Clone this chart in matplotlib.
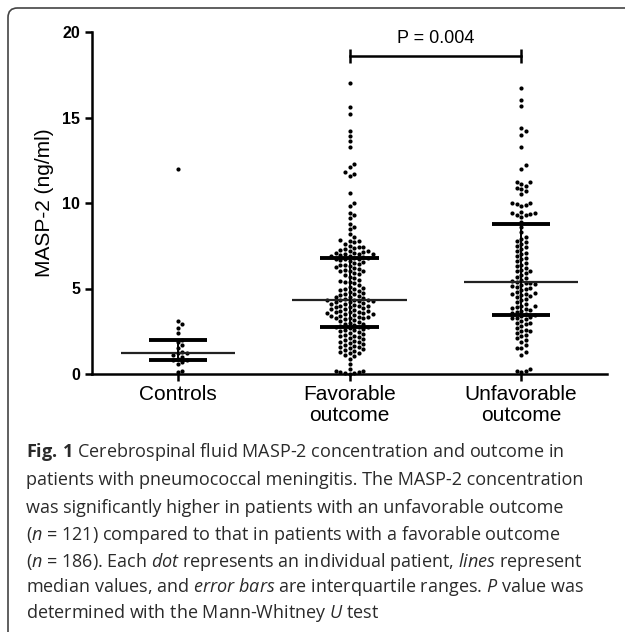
import numpy as np
import matplotlib.pyplot as plt
from matplotlib.patches import FancyBboxPatch

# ---- data ----
groups = ['Controls', 'Favorable\noutcome', 'Unfavorable\noutcome']

controls = [0.1, 0.2, 0.6, 0.7, 0.8, 0.8, 0.9, 1.0, 1.1, 1.2, 1.2, 1.3, 1.5, 1.7,
            1.9, 2.0, 2.4, 2.7, 2.9, 3.1, 12.0]

favorable = [0.02, 0.05, 0.08, 0.1, 0.12, 0.15, 0.2, 0.3, 0.6, 0.9,
             1.05, 1.1, 1.2, 1.25, 1.3, 1.35, 1.4, 1.45,
             1.5, 1.55, 1.6, 1.65, 1.7, 1.75, 1.8, 1.85, 1.9, 1.95,
             2.0, 2.05, 2.1, 2.15, 2.2, 2.25, 2.3, 2.35, 2.4, 2.45, 2.5, 2.55, 2.6, 2.65,
             2.7, 2.72, 2.74, 2.75,
             2.8, 2.85, 2.9, 2.95, 3.0, 3.05, 3.1, 3.15, 3.2, 3.25,
             3.3, 3.3, 3.35, 3.4, 3.4, 3.45, 3.5, 3.5, 3.55, 3.6,
             3.6, 3.65, 3.7, 3.7, 3.75, 3.8, 3.85, 3.9, 3.9, 3.95,
             4.0, 4.0, 4.05, 4.1, 4.1, 4.15, 4.2, 4.2, 4.25, 4.3,
             4.3, 4.35, 4.35, 3.35, 3.55, 3.8, 4.25,
             4.4, 4.45, 4.5, 4.5, 4.55, 4.6, 4.65, 4.7, 4.75, 4.8,
             4.85, 4.9, 4.95, 5.0, 5.05, 5.1, 5.2, 5.3, 5.4, 5.4,
             5.45, 5.5, 5.6, 5.7, 5.8, 5.85, 5.9, 6.0, 6.0, 6.05,
             6.1, 6.15, 6.2, 6.25, 6.3, 6.35, 6.4, 6.45, 6.5, 6.55,
             6.6, 6.65, 6.7, 6.72, 6.75, 6.78, 6.8,
             6.85, 6.9, 6.95, 7.0, 7.0, 7.05, 7.1, 7.15, 7.2, 7.25,
             7.3, 7.35, 7.4, 7.45, 7.5, 7.6, 7.7, 7.75, 7.8, 7.85,
             8.0, 8.2, 8.5, 8.6, 8.8, 9.1, 9.3, 9.4, 9.8, 10.0,
             10.6, 11.6, 11.7, 11.8, 12.1, 12.3, 13.3, 13.6, 13.9, 14.2,
             15.2, 15.6, 17.0, 7.0, 7.2, 6.9]

unfavorable = [0.1, 0.15, 0.2, 0.3, 1.1, 1.3, 1.5, 1.5, 1.7, 1.9,
               2.0, 2.1, 2.2, 2.3, 2.4, 2.5, 2.5, 2.6, 2.7, 2.8,
               2.9, 3.0, 3.0, 3.1, 3.2, 3.25, 3.3, 3.35, 3.4, 3.45,
               3.5, 3.55, 3.6, 3.7, 3.75, 3.8, 3.85, 3.9, 3.95, 4.0,
               4.1, 4.2, 4.3, 4.4, 4.5, 4.55, 4.6, 4.65, 4.7, 4.75,
               4.8, 4.9, 5.0, 5.05, 5.1, 5.15, 5.2, 5.25, 5.3, 5.35,
               5.4,
               5.45, 5.5, 5.6, 5.7, 5.8, 5.9, 6.0, 6.05, 6.1, 6.2,
               6.3, 6.4, 6.5, 6.6, 6.7, 6.8, 6.9, 7.0, 7.1, 7.2,
               7.3, 7.4, 7.5, 7.6, 7.7, 7.8, 7.9, 8.0, 8.3, 8.6,
               8.9, 9.2, 9.3, 9.3, 9.4, 9.4, 9.5, 9.8, 9.9, 9.95,
               10.0, 10.0, 10.5, 10.7, 10.8, 10.9, 11.0, 11.1, 11.2, 11.2,
               12.0, 12.2, 13.3, 14.0, 14.2, 14.4, 15.7, 16.0, 16.7, 9.35]

medians = [1.2, 4.35, 5.4]
q1 = [0.8, 2.75, 3.45]
q3 = [2.0, 6.8, 8.8]
p_label = 'P = 0.004'
p_height = 18.6

caption = [
    r'$\mathbf{Fig.\,1}$ Cerebrospinal fluid MASP-2 concentration and outcome in',
    'patients with pneumococcal meningitis. The MASP-2 concentration',
    'was significantly higher in patients with an unfavorable outcome',
    r'($\mathit{n}$ = 121) compared to that in patients with a favorable outcome',
    r'($\mathit{n}$ = 186). Each $\mathit{dot}$ represents an individual patient, $\mathit{lines}$ represent',
    r'median values, and $\mathit{error}$ $\mathit{bars}$ are interquartile ranges. $\mathit{P}$ value was',
    r'determined with the Mann-Whitney $\mathit{U}$ test',
]

plt.rcParams['font.family'] = ['Liberation Sans', 'DejaVu Sans']
plt.rcParams['mathtext.fontset'] = 'custom'
plt.rcParams['mathtext.rm'] = 'Open Sans'
plt.rcParams['mathtext.it'] = 'Open Sans:italic'
plt.rcParams['mathtext.bf'] = 'Open Sans:bold'

W, H = 625, 632
fig = plt.figure(figsize=(W / 100, H / 100), dpi=100)

# rounded frame, runs off the right/bottom edge
frame = FancyBboxPatch((8 / W, -0.05), 1.2, 1 - 8 / H + 0.05,
                       boxstyle='round,pad=0,rounding_size=0.015',
                       transform=fig.transFigure, fill=False,
                       edgecolor='#444444', linewidth=1.2)
fig.patches.append(frame)

ax_l, ax_r, ax_b, ax_t = 92, 607, 374, 32
ax = fig.add_axes([ax_l / W, 1 - ax_b / H, (ax_r - ax_l) / W, (ax_b - ax_t) / H])
ax.set_xlim(-0.5, 2.5)
ax.set_ylim(0, 20)

ppx = (ax_r - ax_l) / 3.0
ppy = (ax_b - ax_t) / 20.0


def swarm(vals, pos, d=4.6):
    # greedy beeswarm, done in pixel space
    placed = []
    xs, ys = [], []
    for v in sorted(vals):
        y = v * ppy
        k = 0
        while True:
            off = ((k + 1) // 2) * d * (1 if k % 2 == 1 else -1)
            if all((px - off) ** 2 + (py - y) ** 2 >= d * d for px, py in placed):
                break
            k += 1
        placed.append((off, y))
        xs.append(pos + off / ppx)
        ys.append(v)
    return xs, ys


for i, vals in enumerate([controls, favorable, unfavorable]):
    xs, ys = swarm(vals, i)
    ax.scatter(xs, ys, s=9, color='black', linewidths=0, zorder=3, clip_on=False)

pos = np.arange(3)
ax.hlines(medians, pos - 0.333, pos + 0.333, colors='#222222', lw=1.6, zorder=4)
ax.vlines(pos, q1, q3, colors='black', lw=1.4, zorder=4)
ax.hlines(q1, pos - 0.17, pos + 0.17, colors='black', lw=2.8, zorder=4)
ax.hlines(q3, pos - 0.17, pos + 0.17, colors='black', lw=2.8, zorder=4)

# significance bracket
ax.plot([1, 2], [p_height, p_height], color='black', lw=1.8, clip_on=False)
ax.vlines([1, 2], p_height - 0.42, p_height + 0.42, colors='black', lw=1.8, clip_on=False)
ax.text(1.5, p_height + 0.55, p_label, ha='center', va='bottom', fontsize=13)

for s in ['top', 'right']:
    ax.spines[s].set_visible(False)
for s in ['left', 'bottom']:
    ax.spines[s].set_linewidth(1.8)

ax.set_yticks([0, 5, 10, 15, 20])
ax.set_xticks(pos)
ax.set_xticklabels(groups, fontsize=15, linespacing=1.15)
ax.tick_params(axis='both', width=1.8, length=5, color='black')
ax.tick_params(axis='x', pad=3)
for lab in ax.get_yticklabels():
    lab.set_fontweight('bold')
    lab.set_fontsize(11.5)
ax.set_ylabel('MASP-2 (ng/ml)', fontsize=15, labelpad=6)

baselines = [457, 485, 513, 540, 567, 592, 618]
for line, yb in zip(caption, baselines):
    fig.text(26 / W, 1 - yb / H, line, ha='left', va='baseline', fontsize=13,
             family='Open Sans', color='#2a2a2a')

fig.savefig('out.png', dpi=100)
